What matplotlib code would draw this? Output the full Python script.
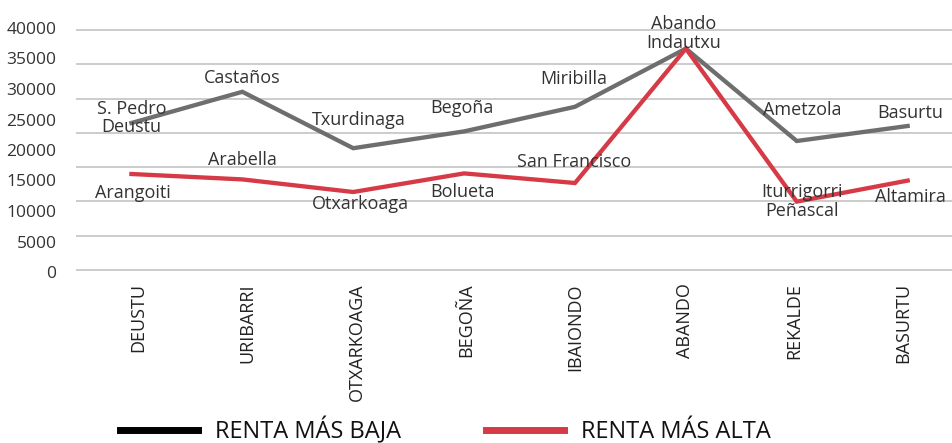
import numpy as np
import matplotlib
matplotlib.use("Agg")
import matplotlib.pyplot as plt
from matplotlib.lines import Line2D

districts = ["DEUSTU", "URIBARRI", "OTXARKOAGA", "BEGOÑA", "IBAIONDO", "ABANDO", "REKALDE", "BASURTU"]
renta_baja = [24500, 29700, 20300, 23100, 27200, 36900, 21500, 24000]
renta_alta = [16000, 15100, 13000, 16100, 14500, 36900, 11400, 14900]
labels_baja = ["S. Pedro\nDeustu", "Castaños", "Txurdinaga", "Begoña", "Miribilla", "Abando\nIndautxu", "Ametzola", "Basurtu"]
labels_alta = ["Arangoiti", "Arabella", "Otxarkoaga", "Bolueta", "San Francisco", "", "Iturrigorri\nPeñascal", "Altamira"]
ytick_labels = ["0", "5000", "10000", "15000", "20000", "25000", "30000", "35000", "40000"]
legend_labels = ["RENTA MÁS BAJA", "RENTA MÁS ALTA"]

# label offsets in pixels (dx, dy) relative to each point
off_baja = [(0, 5), (0, 14), (6, 28), (-2, 23), (-1, 28), (-2, 15), (5, 31), (3, 13)]
off_alta = [(1, -19), (0, 19), (7, -12), (-2, -19), (-1, 21), (0, 0), (5, 0), (3, -16)]

plt.rcParams['font.family'] = ['Open Sans', 'DejaVu Sans']
TXT = '#333333'
GREY = '#6e6e6e'
RED = '#d63a46'

fig = plt.figure(figsize=(9.52, 4.43), dpi=100)
ax = fig.add_axes([76/952, 1-272/443, 1-76/952, 244/443])

x = np.arange(len(districts))
ax.set_xlim(-0.5, 7.4)
ax.set_ylim(0, 40000)

for g in np.linspace(0, 40000, 8):
    ax.axhline(g, color='#cccccc', lw=1.4, zorder=0)

ax.plot(x, renta_baja, color=GREY, lw=3.1, solid_joinstyle='miter', zorder=3)
ax.plot(x, renta_alta, color=RED, lw=3.1, solid_joinstyle='miter', zorder=4)

for xi, yi, lab, (dx, dy) in zip(x, renta_baja, labels_baja, off_baja):
    ax.annotate(lab, (xi, yi), xytext=(dx, dy), textcoords='offset pixels',
                ha='center', va='center', fontsize=13, color=TXT, linespacing=1.05, zorder=5)
for xi, yi, lab, (dx, dy) in zip(x, renta_alta, labels_alta, off_alta):
    if lab:
        ax.annotate(lab, (xi, yi), xytext=(dx, dy), textcoords='offset pixels',
                    ha='center', va='center', fontsize=13, color=TXT, linespacing=1.05, zorder=5)

ypos = np.linspace(-330, 40330, 9)
ax.set_yticks(ypos)
ax.set_yticklabels(ytick_labels, fontsize=12.5, color=TXT)
ax.set_xticks(x * 0.986 + 0.06)
ax.set_xticklabels(districts, rotation=90, fontsize=13, color='#222222',
                   va='top', ha='center')
ax.tick_params(axis='both', length=0)
ax.tick_params(axis='y', pad=14)
ax.tick_params(axis='x', pad=8)
for s in ax.spines.values():
    s.set_visible(False)

handles = [Line2D([], [], color='black', lw=5), Line2D([], [], color=RED, lw=5)]
leg = fig.legend(handles, legend_labels, loc='lower left', bbox_to_anchor=(99/952, -0.05),
                 ncol=2, frameon=False, fontsize=17, handlelength=3.3, handletextpad=0.72,
                 columnspacing=3.58, labelcolor='#111111')

fig.savefig('out.png', dpi=100)
